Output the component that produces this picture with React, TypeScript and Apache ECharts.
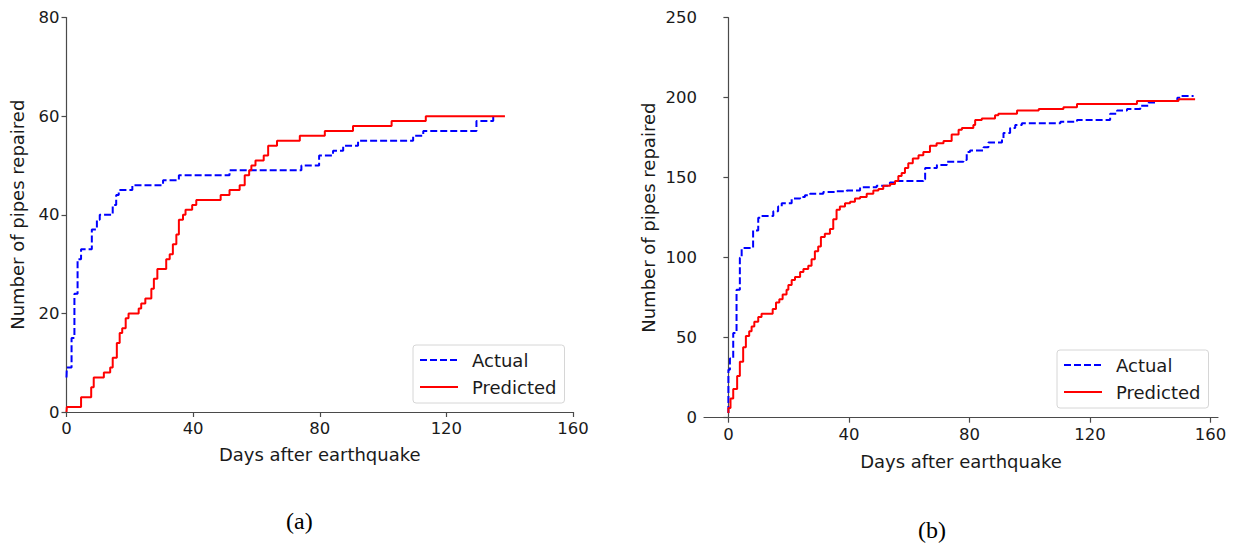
import React, { useEffect, useRef } from "react";
import * as echarts from "echarts";

// Panel (a)
const actualA: [number, number][] = [
  [0, 7], [0.1, 9], [1.6, 15], [2.5, 24], [3.5, 31], [4.6, 33], [8, 37], [9.6, 39], [10.5, 40],
  [14.6, 42], [15.7, 44], [16.5, 45], [20.8, 46], [30.5, 47], [35.5, 48], [51.5, 49], [74.2, 50],
  [79.8, 52], [84.2, 53], [87.4, 54], [92.1, 55], [109.5, 56], [112.7, 57], [129.5, 59], [134.8, 60],
];
const predictedA: [number, number][] = [
  [0, 0], [0.1, 1], [4.6, 3], [7.8, 5], [8.6, 7], [11.8, 8], [13.8, 9], [14.6, 11], [15.9, 14],
  [16.8, 16], [17.6, 17], [18.7, 19], [19.6, 20], [22.8, 21], [23.6, 22], [24.9, 23], [26.8, 25],
  [27.6, 27], [28.7, 29], [31.5, 31], [32.6, 32], [33.6, 34], [34.7, 36], [35.5, 39], [36.8, 40],
  [37.6, 41], [39.7, 42], [41, 43], [48.7, 44], [51.5, 45], [54.7, 46], [56.3, 48], [57.7, 49],
  [58.4, 50], [59.7, 51], [62.3, 52], [63.7, 54], [66.5, 55], [73.7, 56], [81.6, 57], [90.5, 58],
  [102.7, 59], [113.5, 60], [138.5, 60],
];

// Panel (b)
const actualB: [number, number][] = [
  [0, 3], [0, 30], [0.5, 37], [1.6, 53], [2.7, 80], [3.8, 100], [4.4, 106], [8.2, 117], [9.9, 125],
  [11, 126], [14.9, 129], [16.5, 132], [17.7, 134], [21, 137], [23.8, 138], [25.4, 139], [27.1, 140],
  [31.5, 141], [35.9, 141.5], [39.3, 142], [43.7, 144], [49.2, 145], [53.6, 147], [55.9, 148],
  [64.7, 149], [65.3, 156], [69.2, 158], [72.5, 160], [78, 161], [79.1, 166], [80.2, 167],
  [84.7, 169], [86.3, 172], [90.8, 174], [91.3, 178], [93.5, 181], [95.2, 183], [97.4, 184],
  [110.2, 185], [115.7, 186], [126.7, 190], [129, 192], [132.3, 193], [136.7, 195], [139.5, 197],
  [142.3, 198], [149, 200], [150.1, 201], [154.4, 201],
];
const predictedB: [number, number][] = [
  [0, 3], [0, 6], [0.7, 12], [1.6, 18], [2.9, 26], [3.8, 35], [4.9, 44], [5.8, 51], [6.9, 54],
  [7.7, 57], [8.6, 60], [9.9, 63], [11, 65], [14.7, 68], [15.8, 72], [16.9, 74], [18, 77],
  [19.3, 80], [19.9, 83], [21, 86], [22.1, 88], [23.8, 91], [24.9, 93], [26.5, 95], [27.6, 99],
  [28.7, 104], [29.8, 107], [30.7, 113], [32, 115], [33.7, 118], [34.8, 124], [35.9, 130],
  [37, 132], [38.7, 134], [40.4, 135], [42, 137], [43.7, 138], [45.9, 140], [48.1, 142],
  [49.8, 143], [51.4, 145], [53.7, 146], [55.3, 148], [56.4, 151], [57.5, 153], [58.6, 156],
  [59.7, 159], [61.2, 162], [63.1, 164], [64.7, 166], [66.9, 170], [69.1, 171.5], [71.4, 173],
  [74.1, 177], [76.4, 180], [77.5, 181], [81.3, 183], [81.9, 186], [84.1, 187], [88.5, 189],
  [89.6, 190], [95.8, 192], [103, 193], [111.2, 194], [115.7, 196], [135.6, 198], [149.4, 199],
  [154.9, 199],
];

const xTicks = [0, 40, 80, 120, 160];
const seriesNames = ["Actual", "Predicted"];
const xName = "Days after earthquake";
const yName = "Number of pipes repaired";
const captions = ["(a)", "(b)"];

const FONT = "DejaVu Sans";
const AXIS_COLOR = "#4a4a4a";
const TEXT_COLOR = "#1a1a1a";
const TICK_SIZE = 16.5;
const NAME_SIZE = 18;

function tickStyle() {
  return { show: true, length: 5, lineStyle: { color: AXIS_COLOR, width: 1.2 } };
}
function labelStyle(margin: number) {
  return { color: TEXT_COLOR, fontFamily: FONT, fontSize: TICK_SIZE, margin };
}
function axisCommon() {
  return {
    axisLine: { show: true, lineStyle: { color: AXIS_COLOR, width: 1.2 } },
    splitLine: { show: false },
    nameTextStyle: { color: TEXT_COLOR, fontFamily: FONT, fontSize: NAME_SIZE },
  };
}

export default function App() {
  const ref = useRef<HTMLDivElement>(null);
  useEffect(() => {
    if (!ref.current) return;
    const chart = echarts.init(ref.current, undefined, { renderer: "svg" });
    const actualStyle = { color: "#0000ff", width: 2, type: [7, 3] as any };
    const predStyle = { color: "#ff0000", width: 2, type: "solid" as any };
    const legendCommon = {
      orient: "vertical",
      data: seriesNames,
      itemWidth: 38,
      itemHeight: 14,
      itemGap: 9,
      itemStyle: { opacity: 0, borderWidth: 0 },
      backgroundColor: "#fff",
      borderColor: "#d6d6d6",
      borderWidth: 1,
      borderRadius: 3,
      padding: [6, 8, 7, 6],
      textStyle: { color: TEXT_COLOR, fontFamily: FONT, fontSize: NAME_SIZE, padding: [0, 0, 0, 9] },
    };
    const lineSeries = (name: string, idx: number, data: [number, number][], style: any, color: string) => ({
      name,
      type: "line",
      xAxisIndex: idx,
      yAxisIndex: idx,
      data,
      step: "end",
      showSymbol: false,
      symbol: "none",
      lineStyle: style,
      itemStyle: { color },
    });
    chart.setOption({
      animation: false,
      backgroundColor: "#fff",
      grid: [
        { left: 66.5, top: 17.5, width: 506.5, height: 394.5, containLabel: false },
        { left: 704, top: 17.7, width: 514, height: 400, containLabel: false },
      ],
      xAxis: [
        {
          ...axisCommon(),
          type: "value",
          gridIndex: 0,
          min: 0,
          max: 160,
          interval: 40,
          axisTick: tickStyle(),
          axisLabel: labelStyle(8),
          name: xName,
          nameLocation: "middle",
          nameGap: 33,
        },
        {
          ...axisCommon(),
          type: "value",
          gridIndex: 1,
          min: -8.1,
          max: 162.5,
          axisTick: { ...tickStyle(), customValues: xTicks },
          axisLabel: { ...labelStyle(8), customValues: xTicks },
          name: xName,
          nameLocation: "middle",
          nameGap: 35,
        },
      ],
      yAxis: [
        {
          ...axisCommon(),
          type: "value",
          gridIndex: 0,
          min: 0,
          max: 80,
          interval: 20,
          axisTick: tickStyle(),
          axisLabel: labelStyle(7),
          name: yName,
          nameLocation: "middle",
          nameGap: 40,
        },
        {
          ...axisCommon(),
          type: "value",
          gridIndex: 1,
          min: 0,
          max: 250,
          interval: 50,
          axisTick: tickStyle(),
          axisLabel: labelStyle(7),
          name: yName,
          nameLocation: "middle",
          nameGap: 47,
        },
      ],
      legend: [
        { ...legendCommon, left: 413, top: 345 },
        { ...legendCommon, left: 1057, top: 350 },
      ],
      series: [
        lineSeries("Actual", 0, actualA, actualStyle, "#0000ff"),
        lineSeries("Predicted", 0, predictedA, predStyle, "#ff0000"),
        lineSeries("Actual", 1, actualB, actualStyle, "#0000ff"),
        lineSeries("Predicted", 1, predictedB, predStyle, "#ff0000"),
      ],
      graphic: [
        { type: "text", left: 300 - 14, top: 509, style: { text: captions[0], font: "24px 'Liberation Serif'", fill: "#000" } },
        { type: "text", left: 932 - 14, top: 518, style: { text: captions[1], font: "24px 'Liberation Serif'", fill: "#000" } },
      ],
    });
    return () => chart.dispose();
  }, []);
  return (
    <div
      ref={ref}
      style={{ position: "fixed", left: 0, top: 0, width: 1237, height: 550, background: "#fff" }}
    />
  );
}
